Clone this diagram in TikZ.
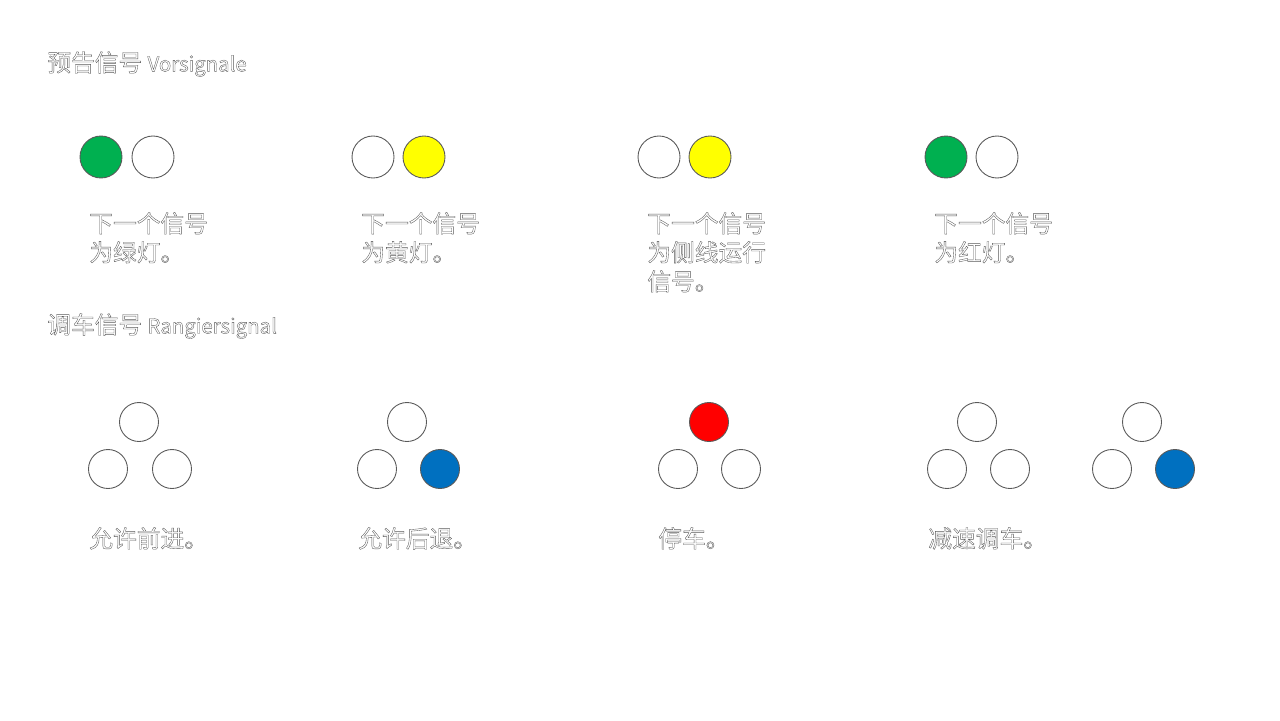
\documentclass[tikz,border=0pt]{standalone}
\usepackage{fontspec}
\usepackage{xcolor}
\usepackage{tikz}
\usetikzlibrary{positioning}
\newfontfamily\cjk{Noto Sans CJK SC}
\definecolor{lampgreen}{HTML}{00B050}
\definecolor{lampyellow}{HTML}{FFFF00}
\definecolor{lampred}{HTML}{FF0000}
\definecolor{lampblue}{HTML}{0070C0}
% white letters with a thin grey edge
\newcommand{\hollowtext}[1]{{\color{white}\special{pdf:literal direct 2 Tr 0.2 w 0.35 G}#1\special{pdf:literal direct 0 Tr}}}
\newcommand{\latinpart}[1]{{\fontsize{11.6}{14}\selectfont #1}}
\tikzset{
  lamp/.style={circle,draw=black!65,line width=0.5pt,fill=white,minimum size=0.84cm,inner sep=0pt},
  shuntlamp/.style={lamp,minimum size=0.78cm},
  caption/.style={anchor=north west,inner sep=0pt,align=left,font=\cjk\fontsize{13.5}{16.5}\selectfont},
  heading/.style={anchor=west,inner sep=0pt,font=\cjk\fontsize{13.5}{16.5}\selectfont}
}
\begin{document}
\begin{tikzpicture}[x=0.02cm,y=-0.02cm]
\useasboundingbox[fill=white] (0,0) rectangle (1280,720);
\node[heading] (vhead) at (47,64) {\hollowtext{预告信号 \latinpart{Vorsignale}}};
\node[lamp,fill=lampgreen] (v1a) at (101,157) {};
\node[lamp] (v1b) at (153,157) {};
\node[caption] (v1t) at (89,212) {\hollowtext{下一个信号}\\\hollowtext{为绿灯。}};
\node[lamp] (v2a) at (373,157) {};
\node[lamp,fill=lampyellow] (v2b) at (424,157) {};
\node[caption] (v2t) at (361,212) {\hollowtext{下一个信号}\\\hollowtext{为黄灯。}};
\node[lamp] (v3a) at (659,157) {};
\node[lamp,fill=lampyellow] (v3b) at (710,157) {};
\node[caption] (v3t) at (647,212) {\hollowtext{下一个信号}\\\hollowtext{为侧线运行}\\\hollowtext{信号。}};
\node[lamp,fill=lampgreen] (v4a) at (946,157) {};
\node[lamp] (v4b) at (997,157) {};
\node[caption] (v4t) at (934,212) {\hollowtext{下一个信号}\\\hollowtext{为红灯。}};
\node[heading] (rhead) at (47,326) {\hollowtext{调车信号 \latinpart{Rangiersignal}}};
\node[shuntlamp] (r1top) at (139,422) {};
\node[shuntlamp] (r1left) at (108,469) {};
\node[shuntlamp] (r1right) at (172,469) {};
\node[caption] (r1t) at (89,527) {\hollowtext{允许前进。}};
\node[shuntlamp] (r2top) at (407,422) {};
\node[shuntlamp] (r2left) at (377,469) {};
\node[shuntlamp,fill=lampblue] (r2right) at (440,469) {};
\node[caption] (r2t) at (358,527) {\hollowtext{允许后退。}};
\node[shuntlamp,fill=lampred] (r3top) at (709,422) {};
\node[shuntlamp] (r3left) at (678,469) {};
\node[shuntlamp] (r3right) at (741,469) {};
\node[caption] (r3t) at (658,527) {\hollowtext{停车。}};
\node[shuntlamp] (r4top) at (977,422) {};
\node[shuntlamp] (r4left) at (947,469) {};
\node[shuntlamp] (r4right) at (1010,469) {};
\node[caption] (r4t) at (928,527) {\hollowtext{减速调车。}};
\node[shuntlamp] (r5top) at (1142,422) {};
\node[shuntlamp] (r5left) at (1112,469) {};
\node[shuntlamp,fill=lampblue] (r5right) at (1175,469) {};
\end{tikzpicture}
\end{document}
